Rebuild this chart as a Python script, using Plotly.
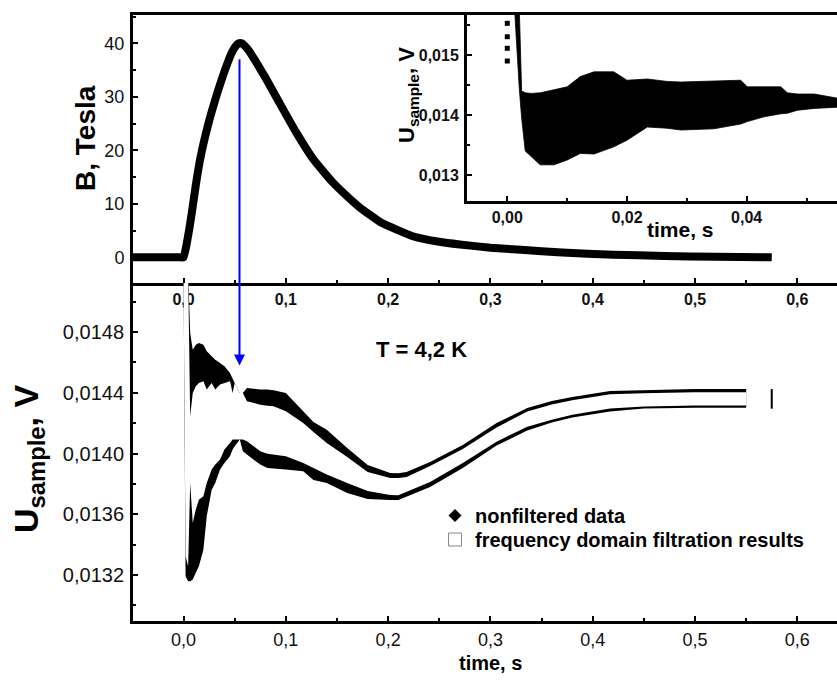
import plotly.graph_objects as go

FONT = "Liberation Sans, Arial, sans-serif"

# ---------------- data ----------------
# Top panel: magnetic field pulse
t_B = [-0.05, -0.004, 0.0, 0.004, 0.008, 0.012, 0.016, 0.021, 0.026, 0.031, 0.036, 0.041,
       0.045, 0.048, 0.051, 0.054, 0.057, 0.060, 0.064, 0.070, 0.080, 0.094, 0.110,
       0.127, 0.145, 0.160, 0.1725, 0.193, 0.225, 0.250, 0.270, 0.300, 0.330, 0.370,
       0.420, 0.470, 0.520, 0.575]
B_tesla = [0.0, 0.0, 0.0, 3.5, 8.2, 13.5, 18.1, 22.5, 26.2, 29.5, 32.5, 35.3,
           37.3, 38.6, 39.5, 40.0, 40.0, 39.5, 38.6, 36.8, 33.6, 28.8, 23.4,
           18.3, 14.2, 11.4, 9.3, 6.5, 3.9, 2.9, 2.4, 1.8, 1.4, 0.9,
           0.5, 0.25, 0.1, 0.0]

# Lower panel: sample voltage, nonfiltered band edges and filtered band edges
t_U = [0.000, 0.002, 0.0045, 0.0065, 0.009, 0.012, 0.015, 0.0194, 0.0227, 0.0275,
       0.031, 0.0357, 0.040, 0.0454, 0.048, 0.050, 0.055, 0.058, 0.062, 0.068,
       0.075, 0.082, 0.088, 0.100, 0.117, 0.127, 0.140, 0.160, 0.180, 0.202,
       0.210, 0.218, 0.241, 0.273, 0.306, 0.336, 0.360, 0.380, 0.417, 0.450,
       0.500, 0.550]
U_nonfilt_hi = [0.01519, 0.01519, 0.01519, 0.014794, 0.014684, 0.014717, 0.014728, 0.014717, 0.014673, 0.014640,
                0.014618, 0.014596, 0.014574, 0.014530, 0.014498, 0.014465, 0.014399, 0.014399, 0.014432, 0.014425,
                0.014421, 0.014421, 0.014416, 0.014399, 0.014278, 0.014207, 0.014157, 0.014036, 0.013924, 0.013872,
                0.013870, 0.013878, 0.013944, 0.014056, 0.014201, 0.014300, 0.014346, 0.014372, 0.014412, 0.014418,
                0.014425, 0.014425]
U_filt_hi = [0.01519, 0.01519, 0.01519, 0.014245, 0.014399, 0.014443, 0.014465, 0.014476, 0.014421, 0.014465,
             0.014421, 0.014454, 0.014465, 0.014476, 0.014399, 0.014465, 0.014399, 0.014399, 0.014344, 0.014333,
             0.014322, 0.014315, 0.014311, 0.014278, 0.014201, 0.014142, 0.014070, 0.013977, 0.013878, 0.013839,
             0.013838, 0.013845, 0.013918, 0.014030, 0.014172, 0.014276, 0.014323, 0.014350, 0.014390, 0.014397,
             0.014404, 0.014404]
U_filt_lo = [0.01519, 0.013323, 0.013258, 0.013806, 0.013543, 0.013631, 0.013696, 0.013719, 0.013806, 0.013894,
             0.013927, 0.013960, 0.014026, 0.014070, 0.014092, 0.014092, 0.014092, 0.014092, 0.014081, 0.014048,
             0.014015, 0.013999, 0.013993, 0.013982, 0.013938, 0.013905, 0.013861, 0.013806, 0.013753, 0.013727,
             0.013725, 0.013747, 0.013813, 0.013937, 0.014078, 0.014177, 0.014223, 0.014256, 0.014296, 0.014309,
             0.014316, 0.014316]
U_nonfilt_lo = [0.01519, 0.013192, 0.013159, 0.013159, 0.013170, 0.013214, 0.013258, 0.013367, 0.013587, 0.013762,
                0.013806, 0.013894, 0.013938, 0.013982, 0.014026, 0.014048, 0.014092, 0.014015, 0.013993, 0.013960,
                0.013927, 0.013905, 0.013901, 0.013894, 0.013883, 0.013826, 0.013806, 0.013740, 0.013700, 0.013694,
                0.013694, 0.013714, 0.013780, 0.013905, 0.014052, 0.014151, 0.014204, 0.014237, 0.014276, 0.014296,
                0.014302, 0.014302]
# last filtered point (its square outline shows as a short tick)
t_filt_last = [0.575]
U_filt_last = [0.01436]

# Inset: early-time raw data band
t_ins = [0.0012, 0.0020, 0.0024, 0.0030, 0.0040, 0.0055, 0.0078, 0.0100, 0.0122, 0.0145,
         0.0178, 0.0200, 0.0234, 0.0267, 0.0290, 0.0345, 0.0390, 0.0401, 0.0429, 0.0457,
         0.0468, 0.0485, 0.0513, 0.0552]
U_ins_hi = [0.0158, 0.0158, 0.01440, 0.01437, 0.01436, 0.01437, 0.01442, 0.01447, 0.01464, 0.01472,
            0.01472, 0.01458, 0.01460, 0.01456, 0.01455, 0.01456, 0.01458, 0.01447, 0.01447, 0.01447,
            0.01437, 0.01435, 0.01435, 0.01428]
U_ins_lo = [0.0158, 0.01445, 0.01395, 0.01340, 0.01330, 0.01317, 0.01317, 0.01325, 0.01336, 0.01335,
            0.01347, 0.01358, 0.01380, 0.01378, 0.01375, 0.01377, 0.01385, 0.01389, 0.01397, 0.01402,
            0.01403, 0.01408, 0.01411, 0.01413]
t_ins_dots = [0.0, 0.0, 0.0, 0.0]
U_ins_dots = [0.015528, 0.015305, 0.015112, 0.014900]

# Arrow linking the field maximum to the voltage curve
arrow_t = 0.0547
arrow_B_start = 37.0
arrow_U_end = 0.01458

# Tick values / labels
top_y_ticks = [0, 10, 20, 30, 40]
top_y_text = ["0", "10", "20", "30", "40"]
x_ticks = [0.0, 0.1, 0.2, 0.3, 0.4, 0.5, 0.6]
x_text = ["0,0", "0,1", "0,2", "0,3", "0,4", "0,5", "0,6"]
low_y_ticks = [0.0132, 0.0136, 0.0140, 0.0144, 0.0148]
low_y_text = ["0,0132", "0,0136", "0,0140", "0,0144", "0,0148"]
ins_x_ticks = [0.0, 0.02, 0.04]
ins_x_text = ["0,00", "0,02", "0,04"]
ins_y_ticks = [0.013, 0.014, 0.015]
ins_y_text = ["0,013", "0,014", "0,015"]

W, H = 837, 683
def px(x):
    return x / W
def py(y):
    return 1 - y / H

fig = go.Figure()

# Top panel curve
fig.add_trace(go.Scatter(x=t_B, y=B_tesla, mode="lines", xaxis="x", yaxis="y",
                         line=dict(color="black", width=8, shape="spline", smoothing=0.4),
                         showlegend=False, hoverinfo="skip"))
# blue line in top panel
fig.add_trace(go.Scatter(x=[arrow_t, arrow_t], y=[arrow_B_start, -10], mode="lines",
                         xaxis="x", yaxis="y", line=dict(color="#0000ff", width=2),
                         showlegend=False, hoverinfo="skip"))

# Lower panel bands
fig.add_trace(go.Scatter(x=t_U + t_U[::-1], y=U_nonfilt_hi + U_nonfilt_lo[::-1],
                         xaxis="x2", yaxis="y2", mode="lines", fill="toself",
                         fillcolor="black", line=dict(color="black", width=0),
                         showlegend=False, hoverinfo="skip"))
fig.add_trace(go.Scatter(x=t_U + t_U[::-1], y=U_filt_hi + U_filt_lo[::-1],
                         xaxis="x2", yaxis="y2", mode="lines", fill="toself",
                         fillcolor="white", line=dict(color="white", width=0),
                         showlegend=False, hoverinfo="skip"))
fig.add_trace(go.Scatter(x=t_filt_last, y=U_filt_last, xaxis="x2", yaxis="y2", mode="markers",
                         marker=dict(symbol="line-ns", size=14,
                                     line=dict(color="black", width=2)),
                         showlegend=False, hoverinfo="skip"))

# arrow in lower panel
fig.add_trace(go.Scatter(x=[arrow_t, arrow_t], y=[0.0152, arrow_U_end + 0.00005], mode="lines",
                         xaxis="x2", yaxis="y2", line=dict(color="#0000ff", width=2),
                         showlegend=False, hoverinfo="skip"))
fig.add_trace(go.Scatter(x=[arrow_t], y=[arrow_U_end], mode="markers",
                         xaxis="x2", yaxis="y2",
                         marker=dict(symbol="arrow-down", size=11, color="#0000ff"),
                         showlegend=False, hoverinfo="skip"))

# legend entries
fig.add_trace(go.Scatter(x=[None], y=[None], xaxis="x2", yaxis="y2", mode="markers",
                         name="nonfiltered data", legend="legend",
                         marker=dict(symbol="diamond", size=10, color="black")))
fig.add_trace(go.Scatter(x=[None], y=[None], xaxis="x2", yaxis="y2", mode="markers",
                         name="frequency domain filtration results", legend="legend2",
                         marker=dict(symbol="square", size=13, color="white",
                                     line=dict(color="#888888", width=1))))

# Inset
fig.add_trace(go.Scatter(x=t_ins + t_ins[::-1], y=U_ins_hi + U_ins_lo[::-1],
                         xaxis="x3", yaxis="y3", mode="lines", fill="toself",
                         fillcolor="black", line=dict(color="black", width=0.8),
                         showlegend=False, hoverinfo="skip"))
fig.add_trace(go.Scatter(x=t_ins_dots, y=U_ins_dots, xaxis="x3", yaxis="y3", mode="markers",
                         marker=dict(symbol="square", size=5, color="black"),
                         showlegend=False, hoverinfo="skip"))

common = dict(showgrid=False, zeroline=False, showline=True, linecolor="black",
              linewidth=3, ticks="inside", tickcolor="black", tickwidth=2, ticklen=5)

def minor(t0, dt):
    return dict(ticks="inside", ticklen=3, tickwidth=2, tickcolor="black",
                tickmode="linear", tick0=t0, dtick=dt)

legend_font = dict(family=FONT, size=20, color="black", weight="bold")
x_range = [-0.0494, 0.6388]
fig.update_layout(
    width=W, height=H, margin=dict(l=0, r=0, t=0, b=0),
    paper_bgcolor="white", plot_bgcolor="white",
    xaxis=dict(domain=[px(133), 1.0], anchor="y", range=x_range, mirror=True,
               tickmode="array", tickvals=x_ticks, ticktext=x_text,
               tickfont=dict(family=FONT, size=16, color="#111", weight="bold"),
               minor=minor(0, 0.05), **common),
    yaxis=dict(domain=[py(283), py(15)], anchor="x", range=[-4.8, 45.3],
               tickmode="array", tickvals=top_y_ticks, ticktext=top_y_text,
               tickfont=dict(family=FONT, size=18, color="#111"), ticklabelstandoff=2,
               minor=minor(0, 5), **common),
    xaxis2=dict(domain=[px(133), 1.0], anchor="y2", range=x_range,
                tickmode="array", tickvals=x_ticks, ticktext=x_text,
                tickfont=dict(family=FONT, size=18, color="#111"),
                minor=minor(0, 0.05), **common),
    yaxis2=dict(domain=[py(621), py(283)], anchor="x2", range=[0.012897, 0.015123],
                tickmode="array", tickvals=low_y_ticks, ticktext=low_y_text,
                tickfont=dict(family=FONT, size=20, color="#111"), ticklabelstandoff=2,
                minor=minor(0.0132, 0.0002), **common),
    xaxis3=dict(domain=[px(467), 1.0], anchor="y3", range=[-0.00673, 0.05509],
                tickmode="array", tickvals=ins_x_ticks, ticktext=ins_x_text,
                tickfont=dict(family=FONT, size=16, color="#111", weight="bold"),
                minor=minor(0, 0.01), **common),
    yaxis3=dict(domain=[py(201), py(15)], anchor="x3", range=[0.012567, 0.015667],
                tickmode="array", tickvals=ins_y_ticks, ticktext=ins_y_text,
                tickfont=dict(family=FONT, size=16, color="#111", weight="bold"),
                ticklabelstandoff=2, minor=minor(0.0125, 0.0005), **common),
    legend=dict(x=px(435), y=py(496), xanchor="left", yanchor="top",
                bgcolor="rgba(0,0,0,0)", borderwidth=0, font=legend_font,
                itemwidth=30),
    legend2=dict(x=px(435), y=py(520), xanchor="left", yanchor="top",
                 bgcolor="rgba(0,0,0,0)", borderwidth=0, font=legend_font,
                 itemwidth=30),
)

annots = [
    dict(text="<b>B, Tesla</b>", x=px(85), y=py(138), textangle=-90,
         font=dict(family=FONT, size=28, color="black")),
    dict(text="<b>U<sub>sample</sub>, V</b>", x=px(28), y=py(459), textangle=-90,
         font=dict(family=FONT, size=34, color="black")),
    dict(text="<b>U<sub>sample</sub>, V</b>", x=px(408), y=py(95), textangle=-90,
         font=dict(family=FONT, size=22, color="black")),
    dict(text="<b>time, s</b>", x=px(680), y=py(230),
         font=dict(family=FONT, size=21, color="black")),
    dict(text="<b>time, s</b>", x=px(490), y=py(663),
         font=dict(family=FONT, size=20, color="black")),
    dict(text="<b>T = 4,2 K</b>", x=px(421), y=py(349),
         font=dict(family=FONT, size=22, color="black")),
]
for a in annots:
    fig.add_annotation(xref="paper", yref="paper", showarrow=False,
                       xanchor="center", yanchor="middle", **a)

fig.write_html("out.html", config={"displayModeBar": False},
               post_script="document.body.style.margin='0px';")
